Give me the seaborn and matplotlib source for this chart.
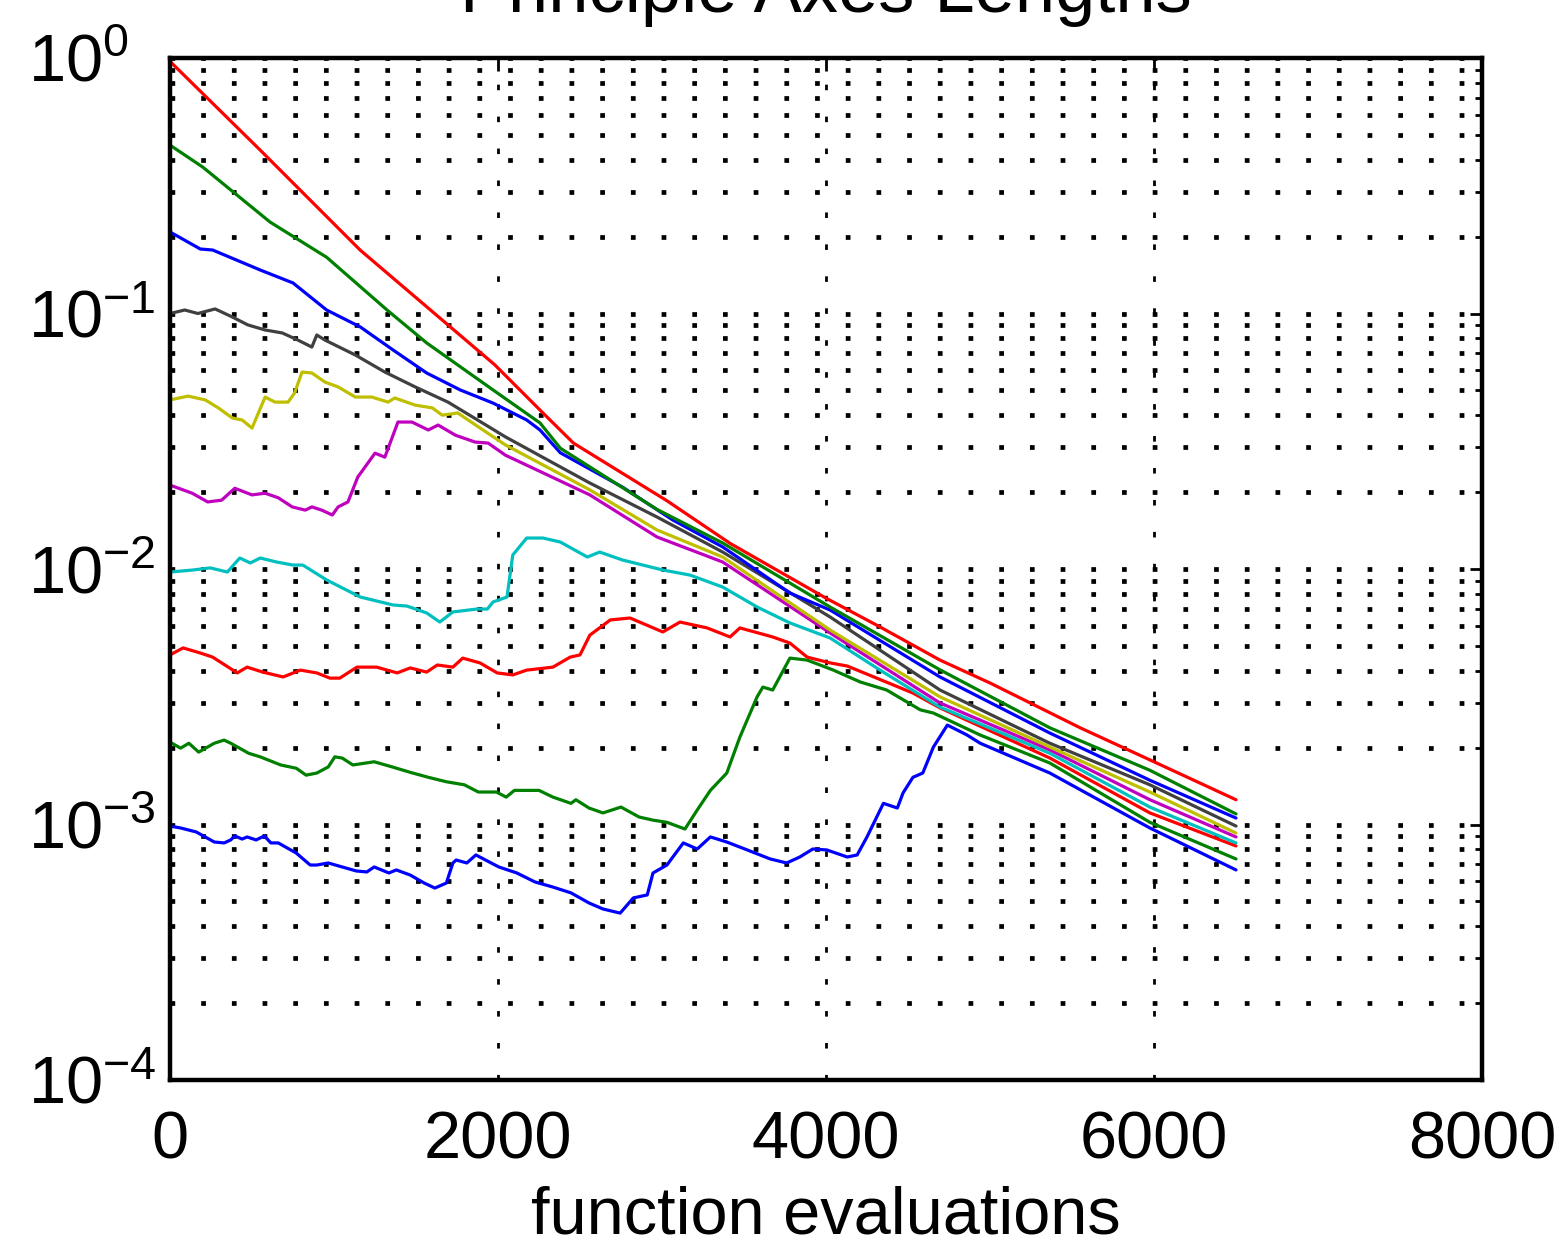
import numpy as np
import pandas as pd
import seaborn as sns
import matplotlib
matplotlib.use("Agg")
import matplotlib.pyplot as plt
from matplotlib.ticker import LogLocator, NullFormatter

# ---------------- data ----------------
title = "Principle Axes Lengths"
xlabel = "function evaluations"
x_ticks = [0, 2000, 4000, 6000, 8000]
y_ticks = [1e-4, 1e-3, 1e-2, 1e-1, 1e0]
y_tick_labels = [r"$10^{-4}$", r"$10^{-3}$", r"$10^{-2}$", r"$10^{-1}$", r"$10^{0}$"]

blue_low_x = [0, 65, 160, 270, 330, 370, 395, 440, 470, 525, 575, 615, 660, 770, 855, 895, 965, 1050, 1135, 1200,
              1245, 1335, 1380, 1465, 1550, 1615, 1685, 1725, 1745, 1810, 1865, 2005, 2115, 2225, 2335, 2445, 2555, 2640, 2745, 2825,
              2910, 2945, 3030, 3130, 3215, 3295, 3395, 3520, 3660, 3760, 3840, 3920, 4005, 4130, 4190, 4250, 4350, 4435, 4470, 4530,
              4590, 4655, 4740, 4860, 4940, 5365, 5975, 6500]
blue_low_y = [0.000986, 0.000969, 0.000935, 0.000854, 0.000847, 0.000870, 0.000902, 0.000877, 0.000894, 0.000870,
              0.000902, 0.000847, 0.000847, 0.000773, 0.000694, 0.000694, 0.000707, 0.000682, 0.000658, 0.000652,
              0.000682, 0.000646, 0.000664, 0.000634, 0.000590, 0.000564, 0.000590, 0.000707, 0.000726, 0.000707,
              0.000760, 0.000682, 0.000646, 0.000596, 0.000569, 0.000540, 0.000493, 0.000467, 0.000450, 0.000516,
              0.000530, 0.000646, 0.000694, 0.000847, 0.000802, 0.000894, 0.000854, 0.000795, 0.000733, 0.000707,
              0.000746, 0.000802, 0.000795, 0.000746, 0.000760, 0.000894, 0.00121, 0.00116, 0.00133, 0.00153,
              0.00159, 0.00201, 0.00245, 0.00224, 0.00208, 0.00159, 0.000969, 0.000664]

green_low_x = [0, 65, 115, 175, 270, 330, 370, 480, 550, 675, 770, 830, 895, 965, 1005, 1050, 1115, 1245, 1355, 1465,
               1575, 1685, 1795, 1880, 1990, 2050, 2100, 2250, 2335, 2445, 2475, 2555, 2640, 2750, 2860, 2945, 3030, 3140, 3215, 3295,
               3395, 3475, 3580, 3615, 3675, 3780, 3885, 4045, 4210, 4370, 4575, 4655, 4940, 5365, 5975, 6500]
green_low_y = [0.00210, 0.00199, 0.00208, 0.00192, 0.00208, 0.00214, 0.00208, 0.00190, 0.00184, 0.00171,
               0.00166, 0.00156, 0.00159, 0.00168, 0.00184, 0.00182, 0.00171, 0.00176, 0.00168, 0.00160,
               0.00153, 0.00147, 0.00143, 0.00134, 0.00134, 0.00128, 0.00136, 0.00136, 0.00128, 0.00121,
               0.00125, 0.00116, 0.00111, 0.00117, 0.00107, 0.00104, 0.00102, 0.00096, 0.00114, 0.00136,
               0.00159, 0.00220, 0.00316, 0.00345, 0.00336, 0.00448, 0.00440, 0.00402, 0.00361, 0.00336,
               0.00281, 0.00273, 0.00224, 0.00174, 0.00102, 0.000733]

red_low_x = [0, 80, 185, 260, 410, 470, 565, 690, 795, 895, 975, 1035, 1140, 1260, 1385, 1465, 1565, 1630, 1725, 1785,
             1890, 1995, 2090, 2175, 2335, 2440, 2500, 2560, 2685, 2805, 3005, 3110, 3275, 3415, 3475, 3675, 3780, 3885, 4025, 4130,
             4530, 4695, 5365, 5975, 6500]
red_low_y = [0.00461, 0.00491, 0.00469, 0.00452, 0.00392, 0.00413, 0.00395, 0.00378, 0.00402, 0.00392,
             0.00374, 0.00374, 0.00413, 0.00413, 0.00392, 0.00410, 0.00395, 0.00421, 0.00413, 0.00448,
             0.00429, 0.00392, 0.00385, 0.00402, 0.00413, 0.00452, 0.00461, 0.00551, 0.00632, 0.00643,
             0.00567, 0.00620, 0.00588, 0.00542, 0.00588, 0.00542, 0.00513, 0.00452, 0.00429, 0.00417,
             0.00327, 0.00286, 0.00182, 0.00111, 0.000824]

cyan_x = [0, 140, 245, 350, 425, 490, 550, 650, 750, 810, 955, 1160, 1360, 1445, 1565, 1645, 1725, 1870, 1935, 1970,
          2055, 2090, 2175, 2275, 2380, 2545, 2620, 2760, 3005, 3170, 3370, 3580, 3780, 4025, 4330, 4695, 5365, 5975, 6500]
cyan_y = [0.00973, 0.00991, 0.0101, 0.00973, 0.01104, 0.01056, 0.01104, 0.01065, 0.01036, 0.01036,
          0.00906, 0.00777, 0.00723, 0.00716, 0.00673, 0.00620, 0.00679, 0.00697, 0.00697, 0.00743,
          0.00777, 0.01134, 0.01322, 0.01322, 0.01275, 0.01114, 0.01165, 0.01084, 0.00991, 0.00947,
          0.00850, 0.00710, 0.00615, 0.00537, 0.00402, 0.00288, 0.00190, 0.00117, 0.000847]

magenta_x = [0, 135, 230, 315, 395, 500, 580, 660, 745, 825, 865, 925, 990, 1025, 1085, 1145, 1250, 1310, 1390, 1475,
             1575, 1635, 1740, 1860, 1940, 2045, 2560, 2970, 3370, 4025, 4695, 5365, 5975, 6500]
magenta_y = [0.0213, 0.0198, 0.0183, 0.0186, 0.0207, 0.0195, 0.0198, 0.0190, 0.0175, 0.0170,
             0.0175, 0.0170, 0.01627, 0.0175, 0.0183, 0.0229, 0.0284, 0.0274, 0.0376, 0.0376,
             0.0350, 0.0366, 0.0334, 0.0314, 0.0311, 0.0279, 0.0195, 0.01334, 0.01065, 0.00562,
             0.00299, 0.00196, 0.00125, 0.000894]

yellow_x = [0, 110, 215, 295, 380, 440, 500, 580, 640, 720, 760, 805, 865, 945, 1025, 1130, 1230, 1330, 1370, 1495,
            1600, 1660, 1755, 1880, 2045, 2560, 2970, 3370, 4025, 4695, 5365, 5975, 6500]
yellow_y = [0.0459, 0.0475, 0.0459, 0.0427, 0.0390, 0.0383, 0.0356, 0.0471, 0.0450, 0.0450,
            0.0489, 0.0590, 0.0585, 0.0539, 0.0516, 0.0471, 0.0471, 0.0450, 0.0467, 0.0438,
            0.0427, 0.0400, 0.0408, 0.0360, 0.0306, 0.0204, 0.01421, 0.01114, 0.00577, 0.00316,
            0.00201, 0.00134, 0.000926]

gray_x = [0, 90, 170, 275, 380, 475, 580, 685, 780, 865, 895, 945, 1130, 1310, 1495, 1695, 1905, 2045, 2560, 2970,
          3370, 4025, 4695, 5365, 5975, 6500]
gray_y = [0.100, 0.1032, 0.100, 0.1042, 0.0969, 0.0902, 0.0862, 0.0839, 0.0787, 0.0739,
          0.0824, 0.0787, 0.0688, 0.0590, 0.0516, 0.0450, 0.0373, 0.0329, 0.0217, 0.01597,
          0.01165, 0.00649, 0.00336, 0.00208, 0.00143, 0.000986]

blue_top_x = [0, 185, 260, 550, 750, 955, 1160, 1360, 1565, 1770, 1970, 2175, 2256, 2380, 2760, 3065, 3370, 3780,
              4025, 4695, 5365, 5975, 6500]
blue_top_y = [0.2085, 0.1788, 0.1772, 0.148, 0.1317, 0.1032, 0.0886, 0.0720, 0.0585, 0.0502, 0.0446, 0.0383,
              0.0350, 0.0285, 0.0209, 0.01556, 0.0122, 0.00805, 0.00691, 0.00378, 0.00228, 0.00149, 0.00106]

green_top_x = [0, 200, 610, 955, 1325, 1565, 1970, 2256, 2380, 2970, 3370, 4025, 4695, 5365, 5975, 6500]
green_top_y = [0.456, 0.374, 0.228, 0.166, 0.103, 0.0767, 0.0502, 0.0373, 0.0297, 0.0171, 0.01264, 0.00710,
               0.00403, 0.00239, 0.00163, 0.00110]

red_top_x = [0, 550, 1160, 1980, 2256, 2460, 3030, 3415, 4000, 4330, 4695, 5000, 5550, 5975, 6500]
red_top_y = [0.97, 0.436, 0.177, 0.063, 0.0419, 0.0311, 0.0185, 0.0126, 0.00769, 0.00593, 0.00440, 0.00358,
             0.00239, 0.00179, 0.00125]

series = [
    ("axis 1", blue_low_x, blue_low_y, (0.0, 0.0, 1.0)),
    ("axis 2", green_low_x, green_low_y, (0.0, 0.5, 0.0)),
    ("axis 3", red_low_x, red_low_y, (1.0, 0.0, 0.0)),
    ("axis 4", cyan_x, cyan_y, (0.0, 0.75, 0.75)),
    ("axis 5", magenta_x, magenta_y, (0.75, 0.0, 0.75)),
    ("axis 6", yellow_x, yellow_y, (0.75, 0.75, 0.0)),
    ("axis 7", gray_x, gray_y, (0.25, 0.25, 0.25)),
    ("axis 8", blue_top_x, blue_top_y, (0.0, 0.0, 1.0)),
    ("axis 9", green_top_x, green_top_y, (0.0, 0.5, 0.0)),
    ("axis 10", red_top_x, red_top_y, (1.0, 0.0, 0.0)),
]

frames = []
for name, xs, ys, _c in series:
    frames.append(pd.DataFrame({"evals": xs, "length": ys, "axis": name}))
df = pd.concat(frames, ignore_index=True)
order = [s[0] for s in series]
palette = {s[0]: s[3] for s in series}

# ---------------- style ----------------
sns.set_style("white")
plt.rcParams["font.family"] = ["Liberation Sans", "DejaVu Sans"]
plt.rcParams["mathtext.fontset"] = "custom"
plt.rcParams["mathtext.rm"] = "Liberation Sans"
plt.rcParams["mathtext.it"] = "Liberation Sans:italic"
plt.rcParams["mathtext.bf"] = "Liberation Sans:bold"
for key in ["text.color", "axes.labelcolor", "xtick.color", "ytick.color", "axes.edgecolor"]:
    plt.rcParams[key] = "black"

fig = plt.figure(figsize=(15.63, 12.53), dpi=100)
ax = fig.add_axes([170 / 1563, 173 / 1253, 1312 / 1563, 1022 / 1253])

sns.lineplot(data=df, x="evals", y="length", hue="axis", hue_order=order, palette=palette,
             estimator=None, sort=False, legend=False, linewidth=2.3, ax=ax)

ax.set_yscale("log")
ax.set_xlim(0, 8000)
ax.set_ylim(1e-4, 1e0)
ax.set_xticks(x_ticks)
ax.set_xticklabels([str(v) for v in x_ticks])
ax.set_yticks(y_ticks)
ax.set_yticklabels(y_tick_labels)
ax.yaxis.set_minor_locator(LogLocator(base=10, subs=np.arange(2, 10)))
ax.yaxis.set_minor_formatter(NullFormatter())

ax.set_axisbelow(True)
ax.yaxis.grid(True, which="both", color="k", linestyle=(0, (1, 5.5)), linewidth=3.4)
ax.xaxis.grid(True, which="major", color="k", linestyle=(0, (2, 9.5)), linewidth=2.0)

for sp in ax.spines.values():
    sp.set_visible(True)
    sp.set_color("k")
    sp.set_linewidth(3.2)

ax.tick_params(axis="both", which="both", direction="in", top=True, right=True, color="k", width=2)
ax.tick_params(axis="both", which="major", length=9, labelsize=48, labelcolor="black")
ax.tick_params(axis="y", which="minor", length=5)
ax.tick_params(axis="x", which="major", pad=22)
ax.tick_params(axis="y", which="major", pad=102)
for lab in ax.get_yticklabels():
    lab.set_horizontalalignment("left")

ax.set_xlabel(xlabel, fontsize=48, labelpad=9, color="black")
ax.set_ylabel("")
ax.set_title(title, fontsize=52, pad=33, color="black")

fig.savefig("out.png", dpi=100)
